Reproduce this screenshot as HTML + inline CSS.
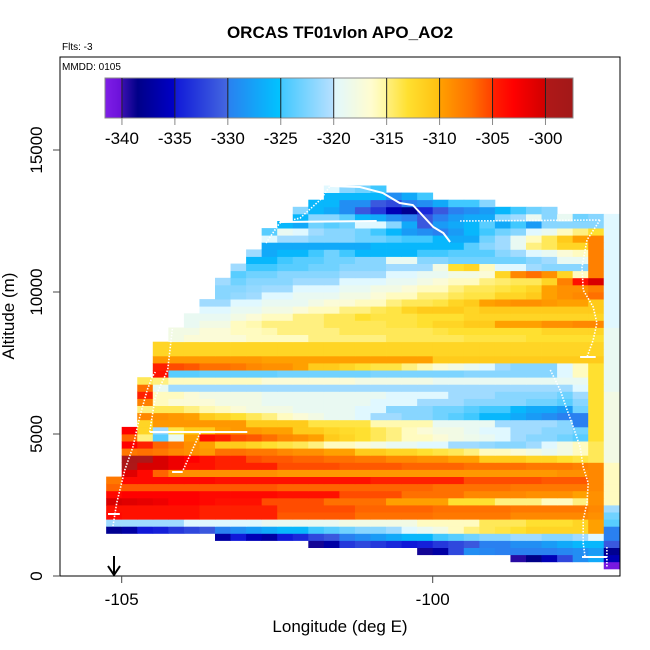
<!DOCTYPE html>
<html><head><meta charset="utf-8"><style>
body{margin:0;background:#fff}
svg{display:block;font-family:"Liberation Sans",sans-serif}
</style></head><body>
<svg id="chart" width="650" height="650" viewBox="0 0 650 650" xmlns="http://www.w3.org/2000/svg">
<rect width="650" height="650" fill="#fff"/>
<defs><clipPath id="pc"><rect x="60" y="57" width="560" height="519"/></clipPath></defs>
<g id="cells" clip-path="url(#pc)"></g>
<g id="track" clip-path="url(#pc)"></g>
<g id="cbar"></g>
<rect x="60" y="57" width="560" height="519" fill="none" stroke="#000" stroke-width="1"/>
<g id="axes"></g>
<text x="340" y="38" text-anchor="middle" font-size="17" font-weight="bold">ORCAS TF01vlon APO_AO2</text>
<text x="62" y="50" font-size="10">Flts: -3</text>
<text x="62" y="70" font-size="10">MMDD: 0105</text>
<text x="340" y="632" text-anchor="middle" font-size="17">Longitude (deg E)</text>
<text transform="translate(14,316) rotate(-90)" text-anchor="middle" font-size="17">Altitude (m)</text>
<g><line x1="114" y1="556" x2="114" y2="574" stroke="#000" stroke-width="2"/><polyline points="108,566 114,575 120,566" fill="none" stroke="#000" stroke-width="2"/></g>
</svg>
<script>
const lonStart = -105.25, lonStep = 0.25, altStart = 250, altStep = 250;
const rowStart = [32,26,20,13,7,0,0,0,0,0,0,0,0,1,1,1,1,1,1,1,2,2,2,2,2,2,2,3,3,3,3,3,4,4,5,5,6,6,7,7,7,8,8,9,9,10,10,10,11,12,12,13,14,14];
const rowVals = [
[-341],
[-339.5,-338.5,-336,-332,-329,-327,-336],
[-339,-337,-332,-329,-329.5,-330,-330,-330,-330,-329.5,-329,-328,-338],
[-339,-337,-333,-332,-333,-334,-335,-334.5,-333,-332,-331,-330,-330,-329,-329,-328,-327,-326,-326,-331],
[-337,-335,-336,-337,-335,-334,-332,-331,-330,-329,-328,-327,-326,-326,-325,-324,-323,-322,-322,-321,-321,-322,-322,-321,-320,-330],
[-338,-337,-335,-334.5,-333,-332,-331,-330,-329,-328,-327,-326,-326,-325,-324,-323,-322,-322,-321,-320,-319,-318,-316,-315,-314,-313.5,-313,-312,-312,-312,-312,-310,-330],
[-321,-321,-321,-321,-321,-320,-320,-320,-320,-320,-319,-319,-319,-319,-319,-318,-318,-318,-318,-318,-316,-316,-316,-316,-314,-314,-314,-313,-313,-313,-312,-310,-324],
[-303.5,-304,-304,-304,-304,-304,-305,-305,-305,-305,-305,-306,-306,-306,-306,-306,-307,-307,-307,-307,-307,-307.5,-307.5,-307.5,-307.5,-307.5,-308.5,-308.5,-308.5,-308.5,-308.5,-309,-323],
[-304,-304,-304,-304,-304,-304,-305,-305,-305,-305,-305,-305.5,-305.5,-305.5,-305.5,-305.5,-306.5,-306.5,-306.5,-306.5,-306.5,-307,-307,-307,-307,-307,-307.5,-307.5,-307.5,-307.5,-307.5,-308.5,-321],
[-300.5,-301,-301.5,-302,-303,-303,-303.5,-304,-304,-304,-305.5,-305.5,-305.5,-305.5,-307,-307,-307,-307,-310,-310,-310,-310,-313,-313,-313,-315,-315,-315,-316,-316,-315,-309,-316],
[-303.5,-303,-303,-303,-303,-303,-303.5,-303.5,-303.5,-303.5,-303.5,-304,-304,-304,-304,-305.5,-305.5,-305.5,-305.5,-307,-307,-307,-307,-308.5,-308.5,-308.5,-308.5,-309,-309,-309,-310,-309,-316],
[-306.5,-306,-306,-306,-306,-306,-306,-306,-306,-306,-306,-306.5,-306.5,-306.5,-306.5,-306.5,-306.5,-306.5,-306.5,-306.5,-306.5,-307,-307,-307,-307,-307,-307.5,-307.5,-307.5,-307.5,-307.5,-308.5,-316],
[-307.5,-303.5,-303.5,-303.5,-303.5,-303.5,-303.5,-304,-304,-304,-304,-304,-304,-304,-304,-304,-304,-305,-305,-305,-305,-305,-305,-305.5,-305.5,-305.5,-305.5,-305.5,-306,-306,-306,-308.5,-316],
[-301,-303.5,-306.5,-309,-309,-309,-309,-309,-309,-309,-309.5,-309.5,-309.5,-309.5,-309.5,-309.5,-309.5,-309.5,-309.5,-309.5,-309.5,-309.5,-309.5,-309.5,-309.5,-309.5,-309.5,-309.5,-309,-309,-308.5,-316],
[-299.5,-300.5,-300.5,-302,-304,-304,-305,-305,-305,-305,-305.5,-305.5,-305.5,-305.5,-306,-306,-306,-306,-306.5,-306.5,-306.5,-306.5,-307,-307,-307,-307,-307.5,-307.5,-307.5,-308,-308.5,-316],
[-299,-299.5,-300.5,-302,-303,-304,-305,-305,-305.5,-306,-306,-306.5,-306.5,-307,-307,-307.5,-307.5,-308.5,-308.5,-309,-309,-310,-310,-311,-311,-311,-312,-312,-313,-313.5,-314,-318],
[-307.5,-307,-307.5,-308.5,-309,-309.5,-307,-307,-307.5,-307.5,-308.5,-309,-309,-310,-310,-311,-311,-312,-312,-313,-313.5,-314,-315,-316,-316,-317,-318,-319,-318,-316,-314,-318],
[-303,-305,-306.5,-307.5,-309,-310,-311,-311,-312,-313,-313.5,-314,-315,-316,-316,-317,-318,-319,-319,-320,-320,-321,-321,-321.5,-322,-322,-321,-320,-318,-316,-314,-318],
[-306.5,-315,-324,-319,-310,-304,-305,-305.5,-306,-307,-308.5,-309,-310,-311,-312,-313,-314,-315,-316,-316,-317,-318,-318.5,-319,-320,-321,-322,-322,-323,-324,-313,-318],
[-303,-312,-321,-313.5,-311,-311,-310,-309.5,-309.5,-310,-310,-311,-311,-312,-312.5,-313,-314,-315,-316,-317,-318,-318,-319,-320,-320,-321,-321,-322,-322,-323,-313,-318],
[-312,-309.5,-309.5,-309.5,-309.5,-309.5,-309.5,-311,-311,-311,-311,-313.5,-313.5,-313.5,-313.5,-315.5,-315.5,-315.5,-315.5,-319,-319,-319,-319,-321,-321,-321,-321,-322,-330,-313,-318],
[-308.5,-309,-309.5,-310,-311,-312,-313,-314,-315,-316,-317,-318,-319,-319,-320,-321,-321,-322,-322,-323,-324,-325,-326,-326,-327,-328,-329,-330,-330,-313,-318],
[-315,-314,-314,-315,-315.5,-316,-317,-318,-318,-318,-319,-319,-319,-319,-320,-320,-322,-322,-322,-323,-323,-324,-325,-325,-326,-327,-327,-328,-323,-313,-318],
[-308,-316,-317,-317,-317,-318,-318,-318,-319,-319,-319,-319,-319,-319,-319,-320,-320,-320,-321,-321,-321,-322,-322,-322,-322,-323,-323,-324,-322,-313,-318],
[-305,-316,-316,-317,-318,-318,-318,-318,-319,-319,-319,-319,-319,-319,-319,-319,-320,-320,-320,-320,-321,-321,-321,-322,-322,-322,-322,-323,-321,-313,-318],
[-307,-319,-321,-321,-321,-321,-321,-321,-321,-321,-321,-321,-321,-321,-321,-321,-321,-321,-321,-321,-321,-321,-321,-321,-321,-321,-321,-321,-320,-313,-319],
[-314,-315,-316,-316,-316,-316,-316,-316,-317,-317,-317,-317,-317,-317,-318,-318,-318,-318,-318,-319,-319,-319,-319,-319,-319,-319,-319,-319,-319,-313,-319],
[-304,-324,-324,-323.5,-323.5,-323.5,-323.5,-323.5,-323,-323,-323,-323,-323,-323,-322.5,-322.5,-322.5,-322.5,-322.5,-322.5,-322,-322,-322,-322,-322,-322,-320,-316,-313,-319],
[-305,-305.5,-306,-307,-307,-307.5,-308.5,-309,-309,-310,-311,-311,-312,-313,-313.5,-313.5,-315,-315.5,-317,-318,-319,-320,-321,-322,-322,-322,-320,-316,-313,-319],
[-309.5,-309.5,-309.5,-309.5,-309.5,-309.5,-309.5,-310,-310,-310,-310,-310,-310,-310,-310,-310,-310,-310,-311,-311,-311,-311,-311,-311,-311,-311,-311,-311,-311,-319],
[-312,-312,-312,-312,-312,-312,-312,-312,-312,-312,-312,-312,-312,-312,-312,-312,-312,-312,-312,-312,-312,-312,-312,-312,-312,-312,-312,-312,-312,-319],
[-312,-312,-312,-312,-312,-312,-312,-312,-312,-312,-312,-312,-312,-312,-312,-312,-312,-312,-312,-312,-312,-312,-312,-312,-312,-312,-312,-312,-312,-319],
[-318,-317,-317,-317,-317,-316,-316,-316,-316,-315,-315,-315,-315,-315,-314,-314,-314,-314,-314,-313.5,-313.5,-313.5,-313.5,-313,-313,-313,-313,-313,-319],
[-318,-318,-317,-317,-316,-316,-315.5,-315,-315,-315,-315,-314,-314,-314,-314,-314,-314,-313.5,-313,-313,-313,-313,-313,-313,-312,-312,-312,-312,-319],
[-319,-318,-318,-316,-315.5,-315,-315,-315,-315,-314,-314,-314,-314,-313.5,-313.5,-313,-312,-312,-311,-311,-310,-310,-310,-309,-309,-308.5,-308.5,-320],
[-319,-319,-319,-318,-317,-316,-316,-315,-315,-314,-314,-313,-313.5,-313.5,-313.5,-313,-313,-313,-312,-312,-312,-312,-312,-312,-312,-312,-312,-320],
[-320,-320,-319,-319,-318,-318,-317,-316,-316,-315,-315,-314,-313.5,-312,-311,-311,-311,-312,-311,-311,-311,-311,-311,-311,-311,-311,-320],
[-321,-321,-320,-320,-319,-319,-319,-318,-317,-317,-316,-316,-315,-314,-314,-313.5,-312,-311,-310,-309.5,-309,-309,-309.5,-310,-310,-311,-320],
[-322,-321.5,-321,-320,-320,-319,-319,-319,-318,-318,-317,-316,-316,-315,-315,-314,-313.5,-313.5,-312,-312,-311,-310,-309,-308.5,-307,-320],
[-322,-322,-321.5,-321,-321,-320,-320,-320,-319,-319,-318,-318,-317,-316,-316,-315,-314,-314,-313.5,-313,-312,-310,-309,-309,-308,-320],
[-321,-323,-322,-322,-322,-321,-321,-321,-320,-320,-320,-319,-319,-318,-317,-316,-316,-315,-314.5,-314,-314,-312,-308,-304,-300.5,-320],
[-324,-323,-323,-322,-322,-322,-322,-321,-321,-321,-320,-320,-319,-319,-318,-318,-317,-312,-308.5,-307,-309,-312,-316,-308,-320],
[-321,-325,-325,-324,-324,-323,-323,-322,-322,-322,-321,-321,-321,-318,-313,-312,-316,-320,-320,-321,-322,-322,-322,-308,-320],
[-326,-326,-325,-324,-324,-323,-323,-322,-322,-319,-319,-322,-322,-323,-323,-323,-323,-323,-322,-321,-319,-319,-308,-320],
[-321,-327,-326,-326,-325,-323,-325,-326,-326,-326,-326,-325,-325,-324,-324,-324,-322,-321,-320,-319,-317,-316,-308,-320],
[-327,-327,-327,-327,-327,-327,-327,-326,-326,-326,-326,-326,-326,-324,-322,-321,-319,-315,-314,-312,-312,-308,-320],
[-320,-321,-321,-322,-322,-322,-323,-323,-324,-325,-325,-326,-327,-327,-323,-321,-319,-316,-314,-311,-310,-308,-320],
[-324,-319,-320,-321,-322,-322,-323,-325,-326,-328,-329,-330,-328,-326,-325,-323,-322,-320,-319,-316,-315,-313,-320],
[-326,-327,-323,-324,-323,-320,-320,-322,-327,-331,-328,-327,-326,-324,-327,-325,-328,-322,-322,-322,-322,-320],
[-326,-322,-322,-324,-326,-327,-329,-330,-331,-330,-328,-327,-327,-322,-321,-319,-322,-319,-323,-322,-320],
[-322,-326,-327,-329,-331,-333,-336,-338,-334,-331,-330,-329,-328,-326,-325,-323,-322],
[-326,-326,-329,-329,-331,-332,-330,-329,-327,-325,-325,-322],
[-326,-326,-326,-326,-329,-327,-325],
[-320,-322,-323,-325]
];
const xTicks = [-105, -100];
const yTicks = [0, 5000, 10000, 15000];
const cbTicks = [-340,-335,-330,-325,-320,-315,-310,-305,-300];
const cbMin = -341.6, cbMax = -297.4;
const trackSegs = [
 {lon:[-105.14,-105.08,-104.95,-104.82,-104.71,-104.59,-104.51,-104.46], alt:[1761,2570,3732,4542,5599,6549,7007,7183], dot:true},
 {lon:[-104.55,-104.46,-104.26,-104.16], alt:[5070,6303,7254,9190], dot:true},
 {lon:[-102.68,-102.46,-102.13,-101.81,-101.65], alt:[11725,12430,12606,13239,13732], dot:true},
 {lon:[-102.46,-100.90], alt:[12465,12500], dot:false},
 {lon:[-101.65,-101.17,-100.80,-100.53,-100.32,-100.20,-99.99,-99.83,-99.72], alt:[13732,13697,13486,13134,13063,12782,12289,12077,11761], dot:false},
 {lon:[-99.56,-97.31], alt:[12500,12535], dot:true},
 {lon:[-97.31,-97.52,-97.60,-97.58,-97.42,-97.36,-97.42,-97.52], alt:[12535,11831,10880,10070,9472,8908,8310,7711], dot:true},
 {lon:[-97.63,-97.38], alt:[7711,7711], dot:false},
 {lon:[-98.11,-97.95,-97.84,-97.74,-97.63,-97.58,-97.50,-97.52,-97.58,-97.58,-97.55], alt:[7254,6549,5845,5246,4542,3838,3275,2570,1972,1162,669], dot:true},
 {lon:[-97.60,-97.20], alt:[669,669], dot:false},
 {lon:[-97.20,-97.20], alt:[1020,310], dot:true},
 {lon:[-104.55,-102.98], alt:[5070,5070], dot:false},
 {lon:[-103.74,-104.02], alt:[5035,3697], dot:true},
 {lon:[-104.19,-104.02], alt:[3662,3662], dot:false},
 {lon:[-105.22,-105.03], alt:[2183,2183], dot:false}
];
const xs = lon => 121.7 + (lon + 105) * 62.2;
const ys = alt => 576 - alt * 0.0284;
const cbx = v => 105 + (v - cbMin) / (cbMax - cbMin) * 468;
const stops = [[-341.7,'#8020e8'],[-340.01,'#6a10d8'],[-340,'#3a10b0'],[-338.5,'#000088'],[-335.01,'#0000c8'],[-335,'#1018d8'],[-330.01,'#4468e0'],[-330,'#2a80f0'],[-325.01,'#00c4ff'],[-325,'#40c8ff'],[-320.01,'#b8e0ff'],[-320,'#e0f8ff'],[-316.5,'#fffcd0'],[-315.01,'#fff8a0'],[-315,'#fff080'],[-313,'#ffe030'],[-310.01,'#ffc010'],[-310,'#ffa000'],[-307,'#ff7000'],[-305.01,'#ff4000'],[-305,'#ff2000'],[-303,'#ff0000'],[-300.01,'#d00000'],[-300,'#b01818'],[-297,'#a01818']];
function hex(h){return [1,3,5].map(i=>parseInt(h.substr(i,2),16));}
function col(v){
  if(v<=stops[0][0]) return stops[0][1];
  for(let i=1;i<stops.length;i++){
    if(v<=stops[i][0]){
      const a=hex(stops[i-1][1]), b=hex(stops[i][1]);
      const t=(v-stops[i-1][0])/(stops[i][0]-stops[i-1][0]);
      return 'rgb('+a.map((c,j)=>Math.round(c+(b[j]-c)*t)).join(',')+')';
    }
  }
  return stops[stops.length-1][1];
}
const NS='http://www.w3.org/2000/svg';
function mk(tag, attrs, parent){const e=document.createElementNS(NS,tag);for(const k in attrs)e.setAttribute(k,attrs[k]);parent.appendChild(e);return e;}
const cells=document.getElementById('cells');
rowVals.forEach((vals,r)=>{
  const a0=altStart+altStep*r, a1=a0+altStep;
  vals.forEach((v,i)=>{
    const k=rowStart[r]+i;
    const l0=lonStart+lonStep*k, l1=l0+lonStep;
    const el=mk('rect',{x:xs(l0).toFixed(2),y:ys(a1).toFixed(2),width:(xs(l1)-xs(l0)+0.4).toFixed(2),height:(ys(a0)-ys(a1)+0.4).toFixed(2),fill:col(v)},cells);
    
    
  });
});
const track=document.getElementById('track');
trackSegs.forEach(s=>{
  const pts=s.lon.map((l,i)=>xs(l).toFixed(1)+','+ys(s.alt[i]).toFixed(1)).join(' ');
  const el=mk('polyline',{points:pts,fill:'none',stroke:'#fff','stroke-width':s.dot?1.6:2,'stroke-dasharray':s.dot?'1.5 1.5':'none'},track);
  
  
});
const cb=document.getElementById('cbar');
for(let x=105;x<573;x+=1){
  const v=cbMin+(x+0.5-105)/468*(cbMax-cbMin);
  const el=mk('rect',{x:x,y:78,width:1.2,height:40,fill:col(v)},cb);
  
  
}
mk('rect',{x:105,y:78,width:468,height:40,fill:'none',stroke:'#888','stroke-width':1},cb);
cbTicks.forEach(t=>{
  const x=cbx(t);
  const d=mk('line',{x1:x,x2:x,y1:78,y2:118,stroke:'#222','stroke-width':1},cb);
  
  
  const tk=mk('line',{x1:x,x2:x,y1:118,y2:125,stroke:'#888','stroke-width':1},cb);
  
  
  const tx=mk('text',{x:x,y:144,'text-anchor':'middle','font-size':17},cb);
  tx.textContent=t;
  
  
});
const ax=document.getElementById('axes');
xTicks.forEach(t=>{
  const x=xs(t);
  const l=mk('line',{x1:x,x2:x,y1:576,y2:583,stroke:'#444','stroke-width':1},ax);
  
  
  const tx=mk('text',{x:x,y:605,'text-anchor':'middle','font-size':17},ax);
  tx.textContent=t;
  
  
});
yTicks.forEach(t=>{
  const y=ys(t);
  const l=mk('line',{x1:53,x2:60,y1:y,y2:y,stroke:'#444','stroke-width':1},ax);
  
  
  const tx=mk('text',{transform:'translate(42,'+y+') rotate(-90)','text-anchor':'middle','font-size':17},ax);
  tx.textContent=t;
  
  
});
</script>
</body></html>
